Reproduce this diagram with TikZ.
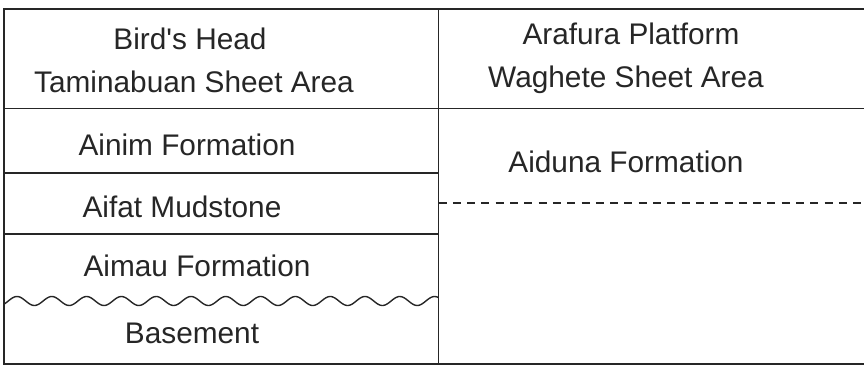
\documentclass[tikz,border=0pt]{standalone}
\usepackage{fontspec}
\setmainfont{Liberation Sans}
\begin{document}
\begin{tikzpicture}[x=1pt,y=-1pt,
  rule/.style={line width=1.4pt, black!85},
  lbl/.style={anchor=base, inner sep=0pt, font=\fontsize{29.8}{34}\selectfont, text=black!85}]
\useasboundingbox (0,0) rectangle (864,366);
% frame
\draw[rule] (864,9) -- (4,9) -- (4,364) -- (864,364);
\draw[rule] (438.5,9) -- (438.5,364);
\draw[rule] (4,108.5) -- (864,108.5);
% left column boundaries
\draw[rule] (4,173) -- (438.5,173);
\draw[rule] (4,234) -- (438.5,234);
\draw[rule] plot[domain=4:438.5, samples=300, smooth] (\x, {301-4.5*sin((\x-17)*10.345+90)});
% right column dashed boundary
\draw[rule, dash pattern=on 8pt off 6.3pt] (438.5,203) -- (864,203);
% labels
\node[lbl] (bh)  at (190,50)  {Bird\textquotesingle s Head};
\node[lbl] (tsa) at (194,93)  {Taminabuan Sheet Area};
\node[lbl] (ain) at (187,156) {Ainim Formation};
\node[lbl] (aif) at (182,218) {Aifat Mudstone};
\node[lbl] (aim) at (197,276) {Aimau Formation};
\node[lbl] (bas) at (192,343) {Basement};
\node[lbl] (ap)  at (631,45)  {Arafura Platform};
\node[lbl] (wsa) at (626,88)  {Waghete Sheet Area};
\node[lbl] (aid) at (626,173) {Aiduna Formation};
\end{tikzpicture}
\end{document}
